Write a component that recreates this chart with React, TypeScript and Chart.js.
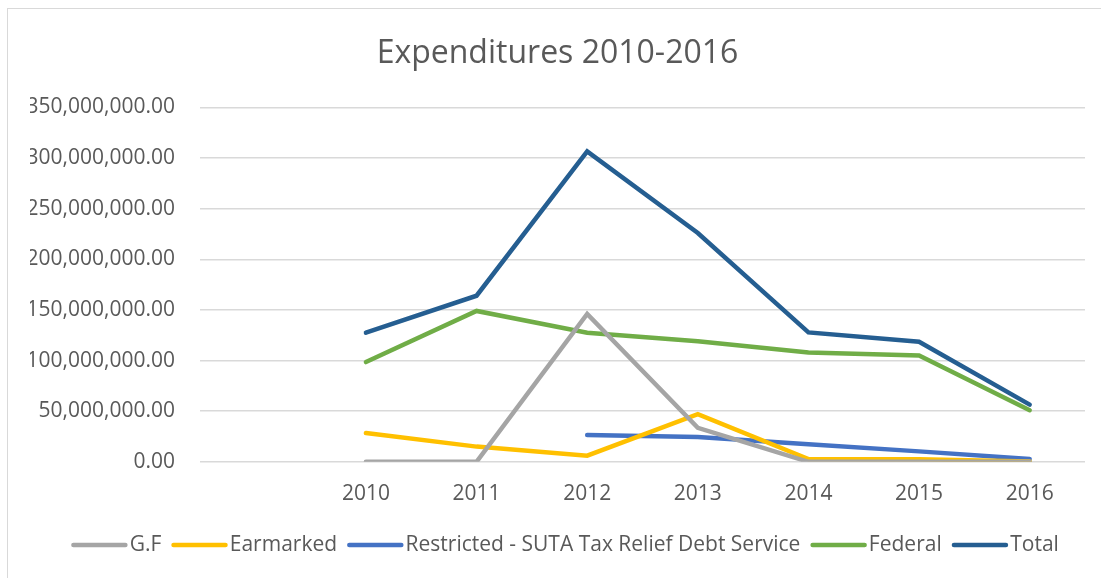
import React, { useEffect, useRef } from "react";
import { Chart, registerables } from "chart.js";

Chart.register(...registerables);

const categories = ["", "2010", "2011", "2012", "2013", "2014", "2015", "2016"];
const gfValues = [null, 0, 0, 146000000, 33500000, 0, 0, 0];
const earmarkedValues = [null, 28500000, 15000000, 6000000, 47000000, 2700000, 2600000, 400000];
const restrictedValues = [null, null, null, 26400000, 24500000, 17300000, 10300000, 2800000];
const federalValues = [null, 98500000, 149000000, 127500000, 119000000, 108000000, 105000000, 51000000];
const totalValues = [null, 127500000, 164000000, 306500000, 226000000, 127800000, 118500000, 56500000];
const yTicks = [0, 50000000, 100000000, 150000000, 200000000, 250000000, 300000000, 350000000];

const TEXT = "#595959";
const FONT = "'Open Sans', 'Noto Sans', sans-serif";

const legendPlugin = {
  id: "excelLegend",
  afterDraw(chart: any) {
    const ctx = chart.ctx;
    const items = chart.data.datasets.map((d: any) => ({ text: d.label, color: d.borderColor }));
    const lineLen = 52;
    const capPad = 2.25;
    const lineToText = 2;
    const itemGap = 10;
    ctx.save();
    ctx.font = `21px ${FONT}`;
    const widths = items.map((it: any) => ctx.measureText(it.text).width);
    let total = 0;
    items.forEach((_: any, i: number) => {
      total += capPad + lineLen + capPad + lineToText + widths[i];
      if (i < items.length - 1) total += itemGap;
    });
    let x = 565 - total / 2;
    const y = 545;
    ctx.textBaseline = "middle";
    ctx.textAlign = "left";
    items.forEach((it: any, i: number) => {
      ctx.strokeStyle = it.color;
      ctx.lineWidth = 4.5;
      ctx.lineCap = "round";
      ctx.beginPath();
      ctx.moveTo(x + capPad, y);
      ctx.lineTo(x + capPad + lineLen, y);
      ctx.stroke();
      x += capPad * 2 + lineLen + lineToText;
      ctx.fillStyle = TEXT;
      ctx.fillText(it.text, x, y);
      x += widths[i] + itemGap;
    });
    ctx.restore();
  },
};

export default function App() {
  const ref = useRef<HTMLCanvasElement | null>(null);

  useEffect(() => {
    document.body.style.margin = "0";
    document.body.style.overflow = "hidden";
    const canvas = ref.current;
    if (!canvas) return;
    const mk = (label: string, data: (number | null)[], color: string) => ({
      label,
      data,
      borderColor: color,
      backgroundColor: color,
      borderWidth: 4.5,
      pointRadius: 0,
      pointHoverRadius: 0,
      borderCapStyle: "round" as const,
      borderJoinStyle: "miter" as const,
      tension: 0,
      spanGaps: false,
    });
    const chart = new Chart(canvas, {
      type: "line",
      data: {
        labels: categories,
        datasets: [
          mk("G.F", gfValues, "#A5A5A5"),
          mk("Earmarked", earmarkedValues, "#FFC000"),
          mk("Restricted - SUTA Tax Relief Debt Service", restrictedValues, "#4472C4"),
          mk("Federal", federalValues, "#70AD47"),
          mk("Total", totalValues, "#255E91"),
        ],
      },
      plugins: [legendPlugin],
      options: {
        animation: false,
        responsive: false,
        maintainAspectRatio: false,
        layout: { padding: { left: 30, right: 16, top: 0, bottom: 51 } },
        plugins: {
          tooltip: { enabled: false },
          legend: { display: false },
          title: {
            display: true,
            text: "Expenditures 2010-2016",
            color: TEXT,
            font: { family: FONT, size: 32, weight: "normal" },
            padding: { top: 35, bottom: 34 },
          },
        },
        scales: {
          x: {
            offset: true,
            grid: { display: false, drawTicks: false },
            border: { display: false },
            ticks: {
              color: TEXT,
              font: { family: FONT, size: 21 },
              padding: 20,
              maxRotation: 0,
              autoSkip: false,
            },
          },
          y: {
            min: 0,
            max: 350000000,
            afterBuildTicks: (s: any) => {
              s.ticks = yTicks.map((v) => ({ value: v }));
            },
            afterFit: (s: any) => {
              s.width = 170;
            },
            grid: { color: "#D9D9D9", lineWidth: 1.5, drawTicks: false },
            border: { display: false },
            ticks: {
              color: TEXT,
              font: { family: FONT, size: 21 },
              padding: 25,
              callback: (v: any) =>
                Number(v).toLocaleString("en-US", {
                  minimumFractionDigits: 2,
                  maximumFractionDigits: 2,
                }),
            },
          },
        },
      },
    });
    return () => chart.destroy();
  }, []);

  return (
    <div style={{ position: "relative", width: 1101, height: 578, overflow: "hidden", background: "#fff" }}>
      <div
        style={{
          position: "absolute",
          left: 7,
          top: 8,
          width: 1200,
          height: 700,
          border: "1.5px solid #D9D9D9",
          boxSizing: "border-box",
        }}
      />
      <canvas
        ref={ref}
        width={1101}
        height={578}
        style={{ position: "absolute", left: 0, top: 0, width: 1101, height: 578 }}
      />
    </div>
  );
}
